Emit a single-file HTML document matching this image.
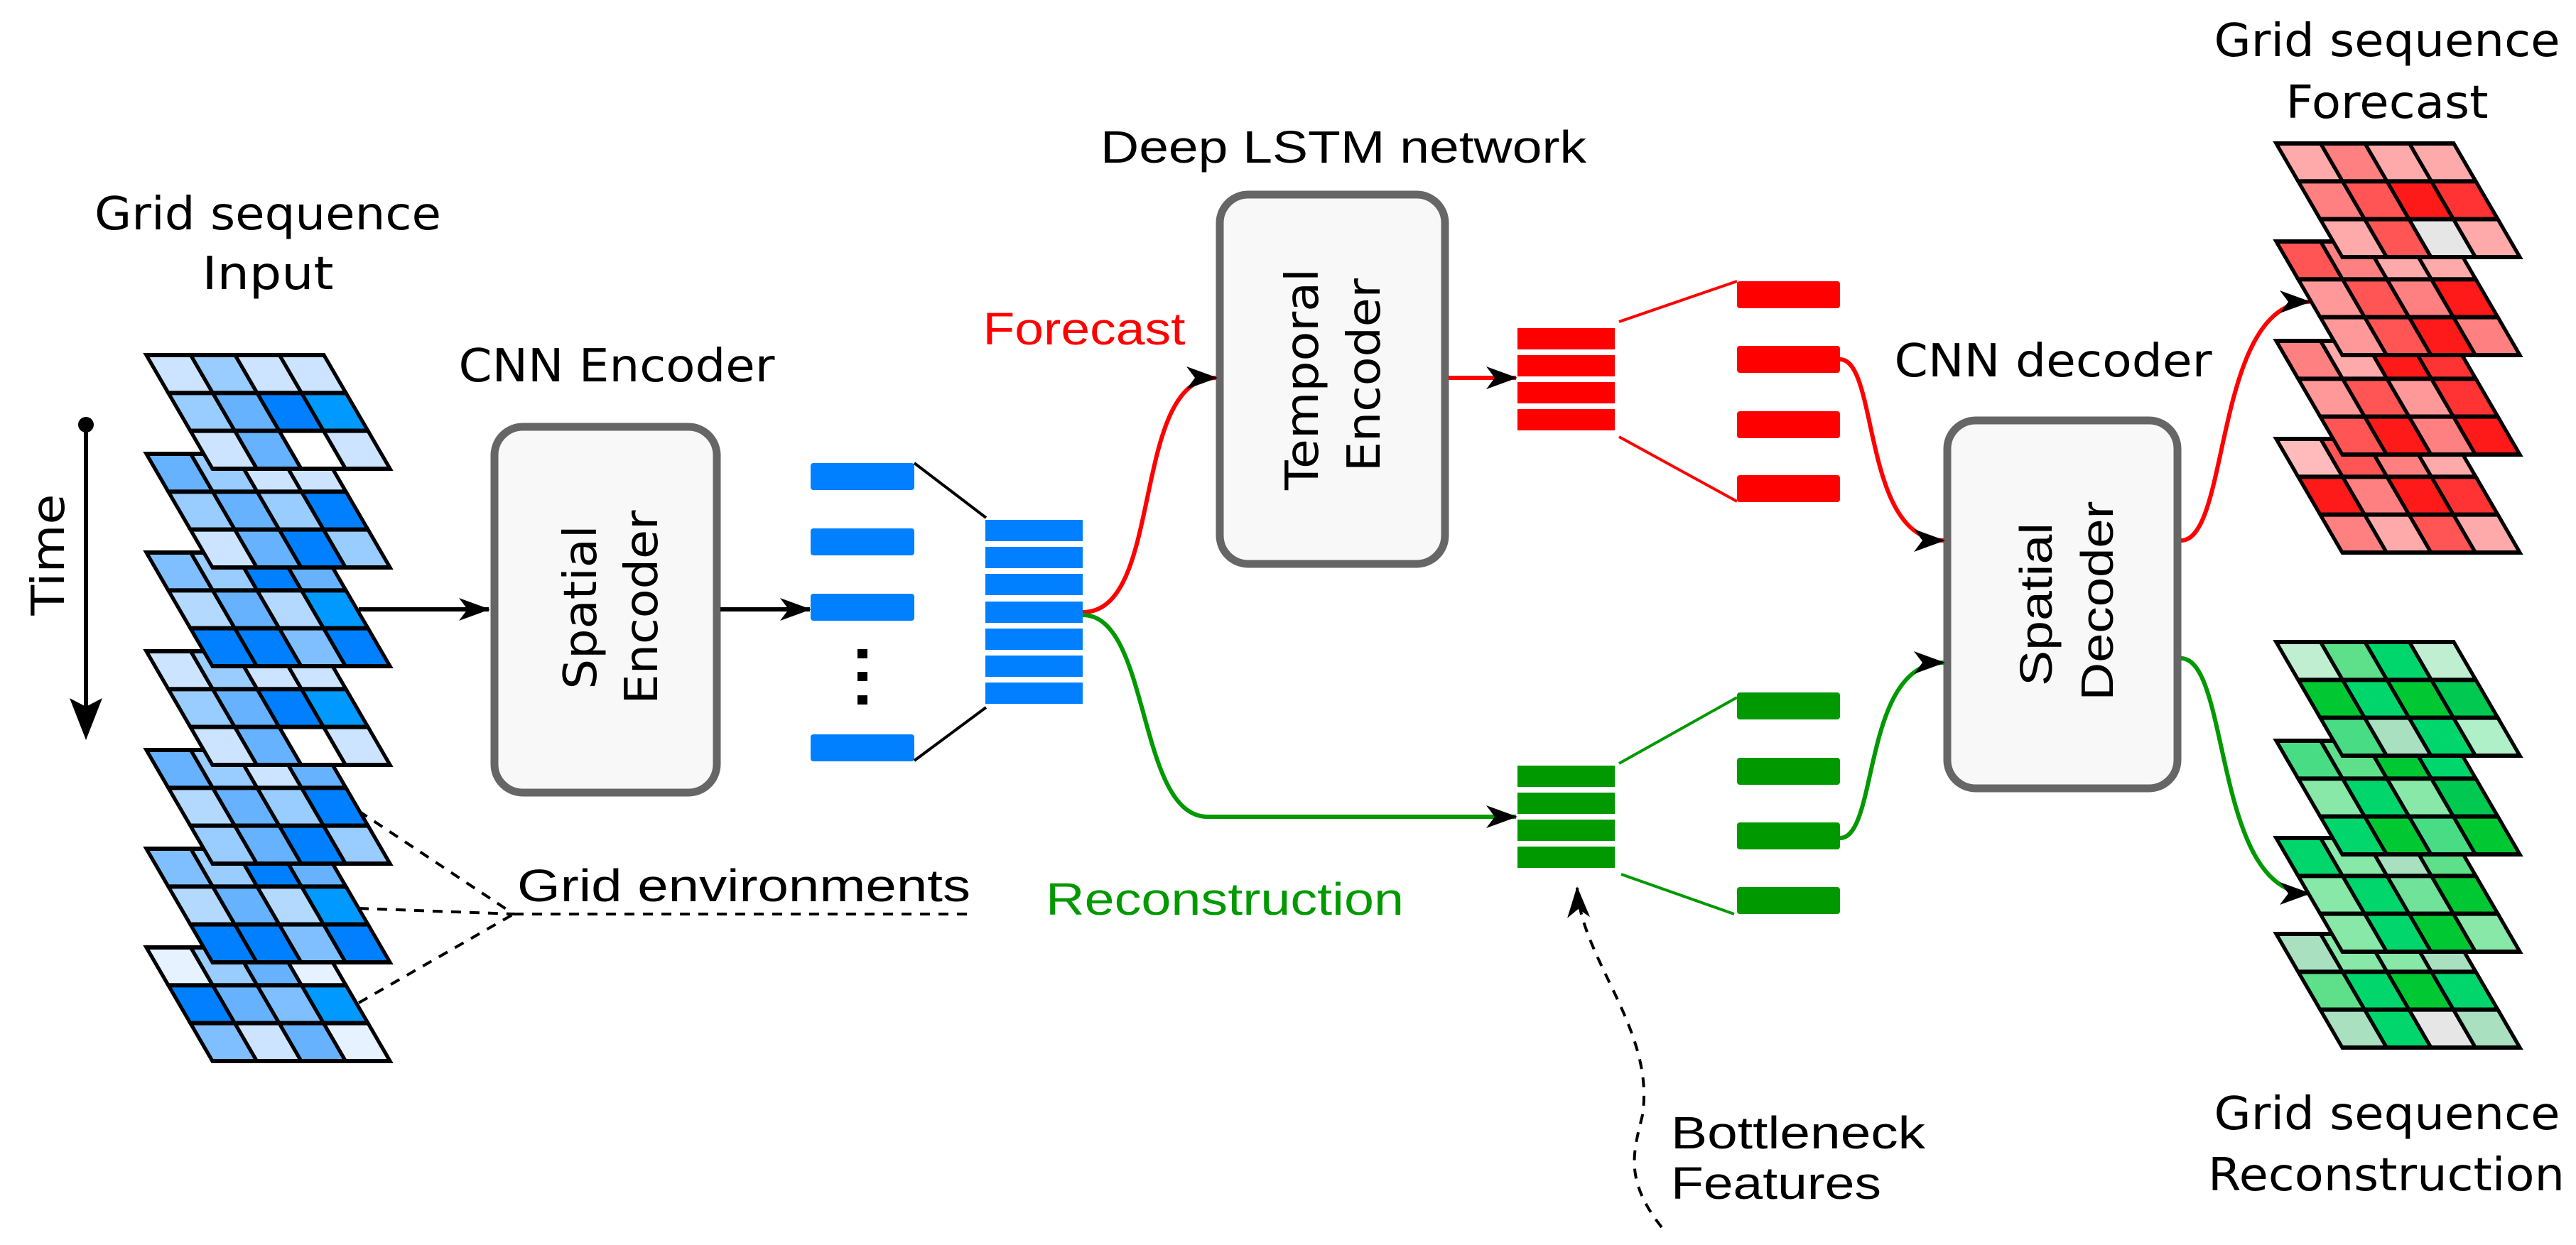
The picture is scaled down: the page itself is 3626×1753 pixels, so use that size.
<!DOCTYPE html>
<html><head><meta charset="utf-8"><style>
html,body{margin:0;padding:0;background:#fff;}
svg{display:block;}
.g rect{stroke:#000;stroke-width:6;width:62.5px;height:53.33px;}
text{font-family:"DejaVu Sans","Liberation Sans",sans-serif;font-size:64px;fill:#000;}
.n{font-family:"Liberation Sans","DejaVu Sans",sans-serif;}
</style></head><body>
<svg width="3626" height="1753" viewBox="0 0 3626 1753" xmlns="http://www.w3.org/2000/svg">
<defs>
<marker id="ah" markerUnits="userSpaceOnUse" markerWidth="46" markerHeight="34" refX="42" refY="17" orient="auto"><path d="M0,1 L44,17 L0,33 L12,17Z" fill="#000"/></marker>
</defs>

<!-- Titles -->
<text x="377" y="323" text-anchor="middle" textLength="488" lengthAdjust="spacingAndGlyphs">Grid sequence</text>
<text x="377" y="407" text-anchor="middle" textLength="185" lengthAdjust="spacingAndGlyphs">Input</text>
<text x="868" y="537" text-anchor="middle" textLength="445" lengthAdjust="spacingAndGlyphs">CNN Encoder</text>
<text class="n" x="1891" y="229" text-anchor="middle" font-size="70" textLength="684" lengthAdjust="spacingAndGlyphs">Deep LSTM network</text>
<text class="n" x="1526" y="485" text-anchor="middle" font-size="68" fill="#ff0000" style="fill:#ff0000" textLength="285" lengthAdjust="spacingAndGlyphs">Forecast</text>
<text x="2890" y="530" text-anchor="middle" textLength="447" lengthAdjust="spacingAndGlyphs">CNN decoder</text>
<text x="3360" y="79" text-anchor="middle" textLength="487" lengthAdjust="spacingAndGlyphs">Grid sequence</text>
<text x="3360" y="166" text-anchor="middle" textLength="285" lengthAdjust="spacingAndGlyphs">Forecast</text>
<text x="3360" y="1590" text-anchor="middle" textLength="487" lengthAdjust="spacingAndGlyphs">Grid sequence</text>
<text x="3359" y="1676" text-anchor="middle" textLength="502" lengthAdjust="spacingAndGlyphs">Reconstruction</text>
<text class="n" x="728" y="1269" font-size="68" textLength="638" lengthAdjust="spacingAndGlyphs">Grid environments</text>
<text class="n" x="1472" y="1288" font-size="68" style="fill:#009900" textLength="504" lengthAdjust="spacingAndGlyphs">Reconstruction</text>
<text class="n" x="2352" y="1617" font-size="68" textLength="358" lengthAdjust="spacingAndGlyphs">Bottleneck</text>
<text class="n" x="2352" y="1688" font-size="68" textLength="296" lengthAdjust="spacingAndGlyphs">Features</text>

<!-- Time -->
<circle cx="121" cy="598" r="11" fill="#000"/>
<line x1="121" y1="598" x2="121" y2="1000" stroke="#000" stroke-width="6"/>
<path d="M98,983 L121,1042 L144,983 L121,995Z" fill="#000"/>
<text x="90" y="781" text-anchor="middle" transform="rotate(-90 90 781)" textLength="171" lengthAdjust="spacingAndGlyphs">Time</text>

<!-- Boxes -->
<rect x="696" y="601" width="313" height="515" rx="40" fill="#f8f8f8" stroke="#666" stroke-width="11"/>
<text x="839" y="855" text-anchor="middle" transform="rotate(-90 839 855)" textLength="231" lengthAdjust="spacingAndGlyphs">Spatial</text>
<text x="925" y="855" text-anchor="middle" transform="rotate(-90 925 855)" textLength="273" lengthAdjust="spacingAndGlyphs">Encoder</text>

<rect x="1717" y="274" width="317" height="520" rx="40" fill="#f8f8f8" stroke="#666" stroke-width="11"/>
<text x="1855" y="534" text-anchor="middle" transform="rotate(-90 1855 534)" textLength="312" lengthAdjust="spacingAndGlyphs">Temporal</text>
<text x="1942" y="528" text-anchor="middle" transform="rotate(-90 1942 528)" textLength="272" lengthAdjust="spacingAndGlyphs">Encoder</text>

<rect x="2741" y="592" width="324" height="518" rx="40" fill="#f8f8f8" stroke="#666" stroke-width="11"/>
<text class="n" x="2888" y="851" text-anchor="middle" transform="rotate(-90 2888 851)" font-size="70" textLength="230" lengthAdjust="spacingAndGlyphs">Spatial</text>
<text class="n" x="2974" y="846" text-anchor="middle" transform="rotate(-90 2974 846)" font-size="70" textLength="281" lengthAdjust="spacingAndGlyphs">Decoder</text>

<!-- black arrows -->
<line x1="505" y1="858" x2="688" y2="858" stroke="#000" stroke-width="6" marker-end="url(#ah)"/>
<line x1="1014" y1="858" x2="1140" y2="858" stroke="#000" stroke-width="6" marker-end="url(#ah)"/>

<!-- blue bars -->
<g fill="#0080ff">
<rect x="1141" y="652" width="146" height="38" rx="4"/>
<rect x="1141" y="744" width="146" height="38" rx="4"/>
<rect x="1141" y="836" width="146" height="38" rx="4"/>
<rect x="1141" y="1034" width="146" height="38" rx="4"/>
</g>
<g fill="#000"><rect x="1207" y="914" width="14" height="13"/><rect x="1207" y="946" width="14" height="13"/><rect x="1207" y="979" width="14" height="13"/></g>
<line x1="1287" y1="652" x2="1388" y2="729" stroke="#000" stroke-width="4"/>
<line x1="1287" y1="1071" x2="1388" y2="996" stroke="#000" stroke-width="4"/>
<g fill="#0080ff">
<rect x="1387" y="732" width="137" height="30"/><rect x="1387" y="770" width="137" height="30"/>
<rect x="1387" y="808" width="137" height="30"/><rect x="1387" y="847" width="137" height="30"/>
<rect x="1387" y="885" width="137" height="30"/><rect x="1387" y="923" width="137" height="30"/>
<rect x="1387" y="961" width="137" height="30"/>
</g>

<!-- curves -->
<path d="M1524,862 C1640,862 1590,532 1712,532" fill="none" stroke="#f00" stroke-width="6" marker-end="url(#ah)"/>
<path d="M1524,866 C1620,866 1600,1150 1700,1150 L2134,1150" fill="none" stroke="#009900" stroke-width="6" marker-end="url(#ah)"/>
<line x1="2039" y1="532" x2="2134" y2="532" stroke="#f00" stroke-width="6" marker-end="url(#ah)"/>

<!-- red stack -->
<g fill="#f00">
<rect x="2136" y="462" width="137" height="30"/><rect x="2136" y="500" width="137" height="30"/>
<rect x="2136" y="538" width="137" height="30"/><rect x="2136" y="576" width="137" height="30"/>
<rect x="2445" y="396" width="145" height="38" rx="4"/><rect x="2445" y="487" width="145" height="38" rx="4"/>
<rect x="2445" y="579" width="145" height="38" rx="4"/><rect x="2445" y="669" width="145" height="38" rx="4"/>
</g>
<line x1="2279" y1="453" x2="2445" y2="396" stroke="#f00" stroke-width="4"/>
<line x1="2279" y1="615" x2="2445" y2="706" stroke="#f00" stroke-width="4"/>

<!-- green stack -->
<g fill="#009900">
<rect x="2136" y="1078" width="137" height="30"/><rect x="2136" y="1116" width="137" height="30"/>
<rect x="2136" y="1154" width="137" height="30"/><rect x="2136" y="1192" width="137" height="30"/>
<rect x="2445" y="975" width="145" height="38" rx="4"/><rect x="2445" y="1067" width="145" height="38" rx="4"/>
<rect x="2445" y="1158" width="145" height="38" rx="4"/><rect x="2445" y="1249" width="145" height="38" rx="4"/>
</g>
<line x1="2279" y1="1075" x2="2445" y2="982" stroke="#009900" stroke-width="4"/>
<line x1="2282" y1="1231" x2="2441" y2="1287" stroke="#009900" stroke-width="4"/>

<path d="M2590,506 C2645,506 2620,761 2736,761" fill="none" stroke="#f00" stroke-width="6" marker-end="url(#ah)"/>
<path d="M2590,1180 C2645,1180 2620,933 2736,933" fill="none" stroke="#009900" stroke-width="6" marker-end="url(#ah)"/>
<path d="M3070,761 C3140,761 3115,425 3251,425" fill="none" stroke="#f00" stroke-width="6" marker-end="url(#ah)"/>
<path d="M3070,927 C3140,927 3115,1258 3251,1258" fill="none" stroke="#009900" stroke-width="6" marker-end="url(#ah)"/>

<!-- dashed -->
<g fill="none" stroke="#000" stroke-width="4" stroke-dasharray="14,12">
<line x1="505" y1="1142" x2="723" y2="1287"/>
<line x1="505" y1="1279" x2="723" y2="1287"/>
<line x1="505" y1="1412" x2="723" y2="1287"/>
<line x1="723" y1="1287" x2="1372" y2="1287"/>
<path d="M2339,1728 C2285,1660 2300,1620 2312,1570 C2330,1450 2225,1350 2220,1250" marker-end="url(#ah)"/>
</g>

<!-- input grids (bottom first) -->
<g class="g">
<g transform="translate(206,1334) skewX(30.16)">
<rect x="0" y="0" fill="#e6f2ff"/><rect x="62.5" y="0" fill="#99ccff"/><rect x="125" y="0" fill="#66b2ff"/><rect x="187.5" y="0" fill="#e6f2ff"/>
<rect x="0" y="53.33" fill="#0080ff"/><rect x="62.5" y="53.33" fill="#66b2ff"/><rect x="125" y="53.33" fill="#80bfff"/><rect x="187.5" y="53.33" fill="#0099ff"/>
<rect x="0" y="106.67" fill="#80bfff"/><rect x="62.5" y="106.67" fill="#cce4ff"/><rect x="125" y="106.67" fill="#66b2ff"/><rect x="187.5" y="106.67" fill="#e6f2ff"/>
</g>
<g transform="translate(206,1195) skewX(30.16)">
<rect x="0" y="0" fill="#80bfff"/><rect x="62.5" y="0" fill="#99ccff"/><rect x="125" y="0" fill="#0080ff"/><rect x="187.5" y="0" fill="#66b2ff"/>
<rect x="0" y="53.33" fill="#b3d9ff"/><rect x="62.5" y="53.33" fill="#66b2ff"/><rect x="125" y="53.33" fill="#b3d9ff"/><rect x="187.5" y="53.33" fill="#0099ff"/>
<rect x="0" y="106.67" fill="#0080ff"/><rect x="62.5" y="106.67" fill="#0080ff"/><rect x="125" y="106.67" fill="#80bfff"/><rect x="187.5" y="106.67" fill="#0080ff"/>
</g>
<g transform="translate(206,1056) skewX(30.16)">
<rect x="0" y="0" fill="#66b2ff"/><rect x="62.5" y="0" fill="#99ccff"/><rect x="125" y="0" fill="#cce4ff"/><rect x="187.5" y="0" fill="#66b2ff"/>
<rect x="0" y="53.33" fill="#b3d9ff"/><rect x="62.5" y="53.33" fill="#66b2ff"/><rect x="125" y="53.33" fill="#99ccff"/><rect x="187.5" y="53.33" fill="#0080ff"/>
<rect x="0" y="106.67" fill="#99ccff"/><rect x="62.5" y="106.67" fill="#66b2ff"/><rect x="125" y="106.67" fill="#0080ff"/><rect x="187.5" y="106.67" fill="#99ccff"/>
</g>
<g transform="translate(206,917) skewX(30.16)">
<rect x="0" y="0" fill="#cce4ff"/><rect x="62.5" y="0" fill="#99ccff"/><rect x="125" y="0" fill="#cce4ff"/><rect x="187.5" y="0" fill="#cce4ff"/>
<rect x="0" y="53.33" fill="#99ccff"/><rect x="62.5" y="53.33" fill="#66b2ff"/><rect x="125" y="53.33" fill="#0080ff"/><rect x="187.5" y="53.33" fill="#0099ff"/>
<rect x="0" y="106.67" fill="#cce4ff"/><rect x="62.5" y="106.67" fill="#66b2ff"/><rect x="125" y="106.67" fill="#ffffff"/><rect x="187.5" y="106.67" fill="#cce4ff"/>
</g>
<g transform="translate(206,778) skewX(30.16)">
<rect x="0" y="0" fill="#80bfff"/><rect x="62.5" y="0" fill="#99ccff"/><rect x="125" y="0" fill="#0080ff"/><rect x="187.5" y="0" fill="#66b2ff"/>
<rect x="0" y="53.33" fill="#b3d9ff"/><rect x="62.5" y="53.33" fill="#66b2ff"/><rect x="125" y="53.33" fill="#b3d9ff"/><rect x="187.5" y="53.33" fill="#0099ff"/>
<rect x="0" y="106.67" fill="#0080ff"/><rect x="62.5" y="106.67" fill="#0080ff"/><rect x="125" y="106.67" fill="#80bfff"/><rect x="187.5" y="106.67" fill="#0080ff"/>
</g>
<g transform="translate(206,639) skewX(30.16)">
<rect x="0" y="0" fill="#66b2ff"/><rect x="62.5" y="0" fill="#99ccff"/><rect x="125" y="0" fill="#cce4ff"/><rect x="187.5" y="0" fill="#cce4ff"/>
<rect x="0" y="53.33" fill="#99ccff"/><rect x="62.5" y="53.33" fill="#66b2ff"/><rect x="125" y="53.33" fill="#99ccff"/><rect x="187.5" y="53.33" fill="#0080ff"/>
<rect x="0" y="106.67" fill="#cce4ff"/><rect x="62.5" y="106.67" fill="#66b2ff"/><rect x="125" y="106.67" fill="#0080ff"/><rect x="187.5" y="106.67" fill="#99ccff"/>
</g>
<g transform="translate(206,500) skewX(30.16)">
<rect x="0" y="0" fill="#cce4ff"/><rect x="62.5" y="0" fill="#99ccff"/><rect x="125" y="0" fill="#cce4ff"/><rect x="187.5" y="0" fill="#cce4ff"/>
<rect x="0" y="53.33" fill="#99ccff"/><rect x="62.5" y="53.33" fill="#66b2ff"/><rect x="125" y="53.33" fill="#0080ff"/><rect x="187.5" y="53.33" fill="#0099ff"/>
<rect x="0" y="106.67" fill="#cce4ff"/><rect x="62.5" y="106.67" fill="#66b2ff"/><rect x="125" y="106.67" fill="#ffffff"/><rect x="187.5" y="106.67" fill="#cce4ff"/>
</g>

<!-- red grids -->
<g transform="translate(3204,618) skewX(30.16)">
<rect x="0" y="0" fill="#ffbbbb"/><rect x="62.5" y="0" fill="#ff5555"/><rect x="125" y="0" fill="#ff8080"/><rect x="187.5" y="0" fill="#ffaaaa"/>
<rect x="0" y="53.33" fill="#ff1a1a"/><rect x="62.5" y="53.33" fill="#ff8080"/><rect x="125" y="53.33" fill="#ff1a1a"/><rect x="187.5" y="53.33" fill="#ff3333"/>
<rect x="0" y="106.67" fill="#ff8080"/><rect x="62.5" y="106.67" fill="#ffaaaa"/><rect x="125" y="106.67" fill="#ff5555"/><rect x="187.5" y="106.67" fill="#ffaaaa"/>
</g>
<g transform="translate(3204,480) skewX(30.16)">
<rect x="0" y="0" fill="#ff8080"/><rect x="62.5" y="0" fill="#ffaaaa"/><rect x="125" y="0" fill="#ff1a1a"/><rect x="187.5" y="0" fill="#ff3333"/>
<rect x="0" y="53.33" fill="#ff9999"/><rect x="62.5" y="53.33" fill="#ff5555"/><rect x="125" y="53.33" fill="#ff9999"/><rect x="187.5" y="53.33" fill="#ff3333"/>
<rect x="0" y="106.67" fill="#ff5555"/><rect x="62.5" y="106.67" fill="#ff1a1a"/><rect x="125" y="106.67" fill="#ff8080"/><rect x="187.5" y="106.67" fill="#ff1a1a"/>
</g>
<g transform="translate(3204,340) skewX(30.16)">
<rect x="0" y="0" fill="#ff5555"/><rect x="62.5" y="0" fill="#ff8080"/><rect x="125" y="0" fill="#ffaaaa"/><rect x="187.5" y="0" fill="#ffaaaa"/>
<rect x="0" y="53.33" fill="#ff9999"/><rect x="62.5" y="53.33" fill="#ff5555"/><rect x="125" y="53.33" fill="#ff8080"/><rect x="187.5" y="53.33" fill="#ff1a1a"/>
<rect x="0" y="106.67" fill="#ff9999"/><rect x="62.5" y="106.67" fill="#ff5555"/><rect x="125" y="106.67" fill="#ff1a1a"/><rect x="187.5" y="106.67" fill="#ff8080"/>
</g>
<g transform="translate(3204,202) skewX(30.16)">
<rect x="0" y="0" fill="#ffaaaa"/><rect x="62.5" y="0" fill="#ff8080"/><rect x="125" y="0" fill="#ffaaaa"/><rect x="187.5" y="0" fill="#ffaaaa"/>
<rect x="0" y="53.33" fill="#ff8080"/><rect x="62.5" y="53.33" fill="#ff5555"/><rect x="125" y="53.33" fill="#ff1a1a"/><rect x="187.5" y="53.33" fill="#ff3333"/>
<rect x="0" y="106.67" fill="#ffaaaa"/><rect x="62.5" y="106.67" fill="#ff5555"/><rect x="125" y="106.67" fill="#e6e6e6"/><rect x="187.5" y="106.67" fill="#ffaaaa"/>
</g>

<!-- green grids -->
<g transform="translate(3204,1315) skewX(30.16)">
<rect x="0" y="0" fill="#a8e0c0"/><rect x="62.5" y="0" fill="#88e8a8"/><rect x="125" y="0" fill="#88e8a8"/><rect x="187.5" y="0" fill="#a8e0c0"/>
<rect x="0" y="53.33" fill="#5ee08a"/><rect x="62.5" y="53.33" fill="#00d66b"/><rect x="125" y="53.33" fill="#00c832"/><rect x="187.5" y="53.33" fill="#00d66b"/>
<rect x="0" y="106.67" fill="#a8e0c0"/><rect x="62.5" y="106.67" fill="#00d66b"/><rect x="125" y="106.67" fill="#e6e6e6"/><rect x="187.5" y="106.67" fill="#a8e0c0"/>
</g>
<g transform="translate(3204,1180) skewX(30.16)">
<rect x="0" y="0" fill="#00d66b"/><rect x="62.5" y="0" fill="#88e8a8"/><rect x="125" y="0" fill="#a8e0c0"/><rect x="187.5" y="0" fill="#5ee08a"/>
<rect x="0" y="53.33" fill="#88e8a8"/><rect x="62.5" y="53.33" fill="#00d66b"/><rect x="125" y="53.33" fill="#70e29a"/><rect x="187.5" y="53.33" fill="#00c832"/>
<rect x="0" y="106.67" fill="#88e8a8"/><rect x="62.5" y="106.67" fill="#00d66b"/><rect x="125" y="106.67" fill="#00c832"/><rect x="187.5" y="106.67" fill="#88e8a8"/>
</g>
<g transform="translate(3204,1043) skewX(30.16)">
<rect x="0" y="0" fill="#48dc84"/><rect x="62.5" y="0" fill="#5ee08a"/><rect x="125" y="0" fill="#00c832"/><rect x="187.5" y="0" fill="#00d66b"/>
<rect x="0" y="53.33" fill="#88e8a8"/><rect x="62.5" y="53.33" fill="#00d66b"/><rect x="125" y="53.33" fill="#88e8a8"/><rect x="187.5" y="53.33" fill="#00c850"/>
<rect x="0" y="106.67" fill="#00d66b"/><rect x="62.5" y="106.67" fill="#00c832"/><rect x="125" y="106.67" fill="#48dc84"/><rect x="187.5" y="106.67" fill="#00c832"/>
</g>
<g transform="translate(3204,904) skewX(30.16)">
<rect x="0" y="0" fill="#c0eed0"/><rect x="62.5" y="0" fill="#5ee08a"/><rect x="125" y="0" fill="#00d66b"/><rect x="187.5" y="0" fill="#c0eed0"/>
<rect x="0" y="53.33" fill="#00c832"/><rect x="62.5" y="53.33" fill="#00d66b"/><rect x="125" y="53.33" fill="#00c832"/><rect x="187.5" y="53.33" fill="#00c850"/>
<rect x="0" y="106.67" fill="#48dc84"/><rect x="62.5" y="106.67" fill="#a8e0c0"/><rect x="125" y="106.67" fill="#00d66b"/><rect x="187.5" y="106.67" fill="#b0f0c8"/>
</g>
</g>
</svg>
</body></html>
